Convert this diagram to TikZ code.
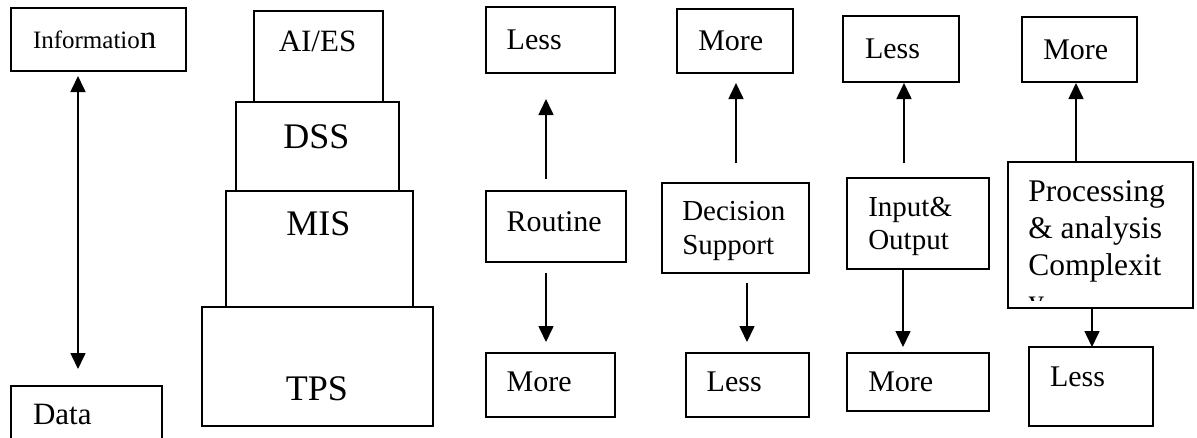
\documentclass[tikz,border=0pt]{standalone}
\usepackage{fontspec}
\setmainfont{Liberation Serif}
\usetikzlibrary{arrows.meta,fit,calc}

\newcommand{\fs}[1]{\fontsize{#1}{#1}\selectfont}

\begin{document}
\begin{tikzpicture}[x=1pt,y=-1pt,
  box/.style={draw, line width=1.5pt, inner sep=0pt, outer sep=0pt},
  lbl/.style={anchor=base west, inner sep=0pt, outer sep=0pt},
  clbl/.style={anchor=base, inner sep=0pt, outer sep=0pt},
  arr/.style={line width=1.6pt, -{Triangle[width=15pt,length=16pt]}},
  darr/.style={line width=1.6pt, {Triangle[width=15pt,length=16pt]}-{Triangle[width=15pt,length=16pt]}}]

\useasboundingbox (0,0) rectangle (1197,437);

% ---- data / information scale
\node[box, fit={(11,8) (186,71)}] (info) {};
\node[box, fit={(11,386) (162,445)}] (data) {};
\node[lbl, font=\fs{25}] (tinfo) at (33,48.5) {Informatio{\fs{33}n}};
\node[lbl, font=\fs{31}] (tdata) at (33,424) {Data};
\draw[darr] ($(info.south)+(-20.5,5)$) -- ($(data.north)+(-8.5,-17)$);

% ---- pyramid of systems
\node[box, fit={(254,11) (383,102)}] (aies) {};
\node[box, fit={(236,102) (399,191)}] (dss) {};
\node[box, fit={(226,191) (413,307)}] (mis) {};
\node[box, fit={(202,307) (433,426)}] (tps) {};
\node[clbl, font=\fs{31}] (taies) at (317.5,51.7) {AI/ES};
\node[clbl, font=\fs{36}] (tdss) at (316.5,148.3) {DSS};
\node[clbl, font=\fs{36}] (tmis) at (318.5,235) {MIS};
\node[clbl, font=\fs{36}] (ttps) at (317,400) {TPS};

% ---- routine
\node[box, fit={(486,7) (615,73)}] (less1) {};
\node[box, fit={(486,191) (626,262)}] (rout) {};
\node[box, fit={(486,353) (615,417)}] (more1) {};
\node[lbl, font=\fs{30}] (tless1) at (506.7,49.3) {Less};
\node[lbl, font=\fs{30}] (trout) at (506.7,231.7) {Routine};
\node[lbl, font=\fs{30}] (tmore1) at (506.7,391.7) {More};
\draw[arr] ($(rout.north)+(-10,-12)$) -- ($(less1.south)+(-4.5,26)$);
\draw[arr] ($(rout.south)+(-10,11)$) -- ($(more1.north)+(-4.5,-11)$);

% ---- decision support
\node[box, fit={(677,9) (793,73)}] (more2) {};
\node[box, fit={(662,183) (809,273)}] (dec) {};
\node[box, fit={(686,353) (809,417)}] (less2) {};
\node[lbl, font=\fs{30}] (tmore2) at (698.3,50) {More};
\node[lbl, font=\fs{29}] (tdec1) at (682.3,220.5) {Decision};
\node[lbl, font=\fs{29}] (tdec2) at (682.3,254.5) {Support};
\node[lbl, font=\fs{30}] (tless2) at (706.7,391.7) {Less};
\draw[arr] ($(dec.north)+(0.5,-20)$) -- ($(more2.south)+(1,10)$);
\draw[arr] ($(dec.south)+(11.5,10)$) -- ($(less2.north)+(-0.5,-11)$);

% ---- input and output
\node[box, fit={(843,16) (959,82)}] (less3) {};
\node[box, fit={(847,178) (989,269)}] (inout) {};
\node[box, fit={(847,353) (989,411)}] (more3) {};
\node[lbl, font=\fs{30}] (tless3) at (865,58.3) {Less};
\node[lbl, font=\fs{29}] (tin1) at (868.3,216) {Input\&};
\node[lbl, font=\fs{29}] (tin2) at (868.3,249.3) {Output};
\node[lbl, font=\fs{30}] (tmore3) at (868.3,391.7) {More};
\draw[arr] ($(inout.north)+(-14,-15)$) -- ($(less3.south)+(3,1)$);
\draw[arr] ($(inout.south)+(-15,0)$) -- ($(more3.north)+(-15,-6)$);

% ---- processing and analysis complexity
\node[box, fit={(1022,17) (1137,82)}] (more4) {};
\node[box, fit={(1008,162) (1193,308)}] (proc) {};
\node[box, fit={(1029,347) (1153,426)}] (less4) {};
\node[lbl, font=\fs{30}] (tmore4) at (1043.3,59.3) {More};
\begin{scope}
  \clip (1008,162) rectangle (1193,300);
  \node[lbl, font=\fs{31.5}] (tproc1) at (1028.3,201.7) {Processing};
  \node[lbl, font=\fs{31.5}] (tproc2) at (1028.3,238.3) {\& analysis};
  \node[lbl, font=\fs{31.5}] (tproc3) at (1028.3,275) {Complexit};
  \node[lbl, font=\fs{31.5}] (tproc4) at (1028.3,311.7) {y};
\end{scope}
\node[lbl, font=\fs{30}] (tless4) at (1050,386.7) {Less};
\draw[arr] ($(proc.north)+(-24.5,0)$) -- ($(more4.south)+(-3.5,1)$);
\draw[arr] ($(proc.south)+(-8.5,0)$) -- ($(less4.north)+(1,0)$);

\end{tikzpicture}
\end{document}
